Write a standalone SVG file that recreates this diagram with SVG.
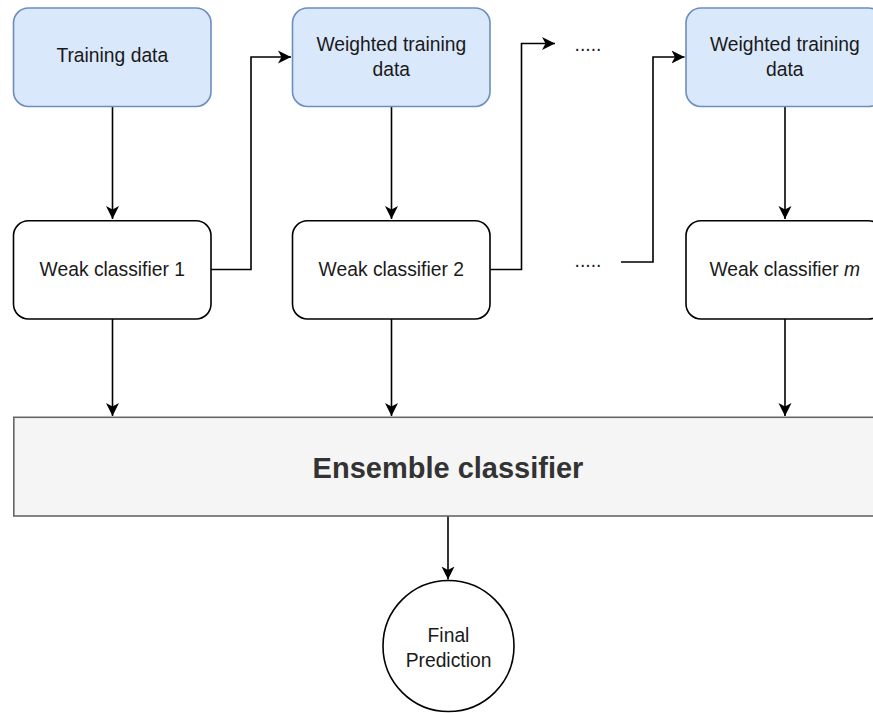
<svg xmlns="http://www.w3.org/2000/svg" width="873" height="713" viewBox="0 0 873 713">
<defs>
<marker id="arr" viewBox="0 0 14 14" refX="13" refY="7" markerWidth="14" markerHeight="14" markerUnits="userSpaceOnUse" orient="auto">
<path d="M0,0.5 L13,7 L0,13.5 L3.5,7 Z" fill="#000"/>
</marker>
<style>
.blue{fill:#dae8fc;stroke:#6c8ebf;stroke-width:1.6}
.white{fill:#ffffff;stroke:#000;stroke-width:1.6}
.gray{fill:#f5f5f5;stroke:#666666;stroke-width:1.6}
.t{font-family:"Liberation Sans",Arial,Helvetica,sans-serif;font-size:19.3px;fill:#1a1a1a;text-anchor:middle}
.big{font-family:"Liberation Sans",Arial,Helvetica,sans-serif;font-size:29px;font-weight:bold;fill:#333333;text-anchor:middle}
.c{fill:none;stroke:#000;stroke-width:1.6}
</style>
</defs>
<rect width="873" height="713" fill="#ffffff"/>
<g id="connectors">
<path class="c" d="M112.5,107 V219" marker-end="url(#arr)"/>
<path class="c" d="M211,269.5 H251 V57 H291" marker-end="url(#arr)"/>
<path class="c" d="M391.5,107 V219" marker-end="url(#arr)"/>
<path class="c" d="M490,269.5 H521.5 V43.5 H555" marker-end="url(#arr)"/>
<path class="c" d="M621,262 H653 V57 H684.5" marker-end="url(#arr)"/>
<path class="c" d="M785,107 V219" marker-end="url(#arr)"/>
<path class="c" d="M112.5,319 V416" marker-end="url(#arr)"/>
<path class="c" d="M391.5,319 V416" marker-end="url(#arr)"/>
<path class="c" d="M785,319 V416" marker-end="url(#arr)"/>
<path class="c" d="M448,516 V579.5" marker-end="url(#arr)"/>
</g>
<g id="training-data">
<rect class="blue" x="13.5" y="8" width="197.5" height="98.5" rx="15"/>
<text class="t" x="112.3" y="62">Training data</text>
</g>
<g id="weighted-1">
<rect class="blue" x="292.5" y="8" width="197.5" height="98.5" rx="15"/>
<text class="t" x="391.3" y="51">Weighted training</text>
<text class="t" x="391.3" y="75.5">data</text>
</g>
<g id="weighted-m">
<rect class="blue" x="686" y="8" width="197.5" height="98.5" rx="15"/>
<text class="t" x="784.8" y="51">Weighted training</text>
<text class="t" x="784.8" y="75.5">data</text>
</g>
<g id="dots-top">
<text class="t" x="588" y="51">.....</text>
</g>
<g id="weak-1">
<rect class="white" x="13.5" y="220.7" width="197.5" height="98.3" rx="15"/>
<text class="t" x="112.3" y="276">Weak classifier 1</text>
</g>
<g id="weak-2">
<rect class="white" x="292.5" y="220.7" width="197.5" height="98.3" rx="15"/>
<text class="t" x="391.3" y="276">Weak classifier 2</text>
</g>
<g id="dots-mid">
<text class="t" x="588" y="267">.....</text>
</g>
<g id="weak-m">
<rect class="white" x="686" y="220.7" width="197.5" height="98.3" rx="15"/>
<text class="t" x="784.8" y="276">Weak classifier <tspan font-style="italic">m</tspan></text>
</g>
<g id="ensemble">
<rect class="gray" x="13.8" y="417.3" width="868" height="98.7"/>
<text class="big" x="448" y="478">Ensemble classifier</text>
</g>
<g id="final">
<circle class="white" cx="448.5" cy="646" r="65.5"/>
<text class="t" x="448.5" y="642">Final</text>
<text class="t" x="448.5" y="667">Prediction</text>
</g>
</svg>
